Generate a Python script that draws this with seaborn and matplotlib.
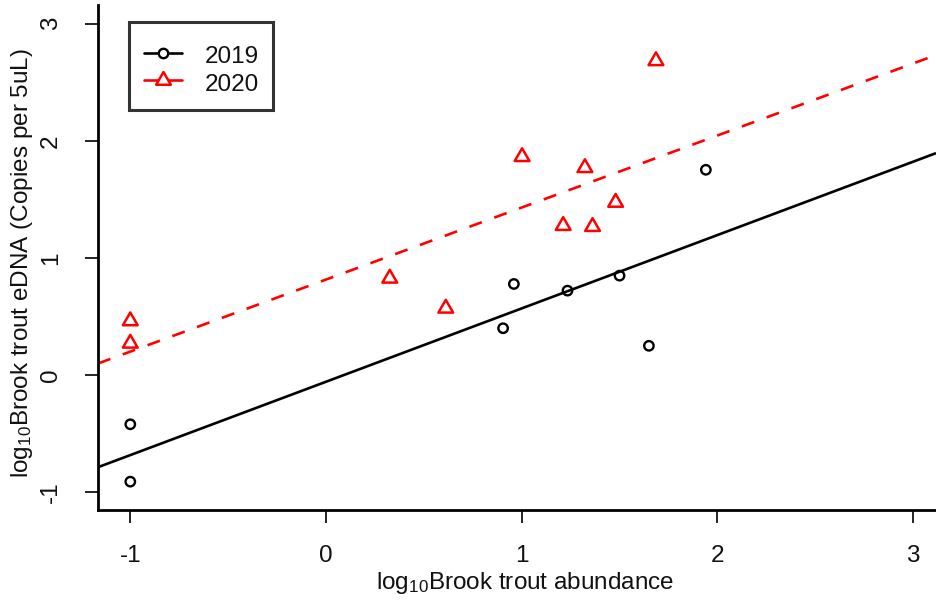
import numpy as np
import pandas as pd
import matplotlib
matplotlib.use("Agg")
import matplotlib.pyplot as plt
from matplotlib.lines import Line2D
from matplotlib.path import Path
import seaborn as sns

# log10 brook trout abundance vs log10 eDNA concentration, by sampling year
abund_2019 = [-1.0, -1.0, 0.905, 0.96, 1.234, 1.50, 1.65, 1.941]
edna_2019 = [-0.42, -0.91, 0.40, 0.778, 0.721, 0.849, 0.25, 1.753]
abund_2020 = [-1.0, -1.0, 0.326, 0.612, 1.002, 1.212, 1.323, 1.362, 1.48, 1.686]
edna_2020 = [0.462, 0.271, 0.826, 0.57, 1.864, 1.276, 1.77, 1.267, 1.474, 2.683]
years = ["2019", "2020"]
x_ticks = [-1, 0, 1, 2, 3]
y_ticks = [-1, 0, 1, 2, 3]

sns.set_theme(style="white")
plt.rcParams["font.family"] = ["Liberation Sans", "DejaVu Sans"]
plt.rcParams["mathtext.fontset"] = "custom"
plt.rcParams["mathtext.rm"] = "Liberation Sans"
plt.rcParams["mathtext.it"] = "Liberation Sans:italic"
plt.rcParams["mathtext.bf"] = "Liberation Sans:bold"
plt.rcParams["axes.unicode_minus"] = False

FS = 17.5
BLACK = "#000000"
RED = "#ff0000"
TXT = "#111111"
LW = 1.9

# equilateral open triangle, centred on its centroid
tri = Path([(0, 1), (0.866, -0.5), (-0.866, -0.5), (0, 1)],
           [Path.MOVETO, Path.LINETO, Path.LINETO, Path.CLOSEPOLY])

fig = plt.figure(figsize=(9.36, 6.0), dpi=100)
ax = fig.add_axes([98 / 936, 1 - 510 / 600, 1 - 98 / 936, (510 - 5) / 600])

xlim = (-1.165, 3.117)
ylim = (-1.152, 3.16)
ax.set_xlim(*xlim)
ax.set_ylim(*ylim)

df19 = pd.DataFrame({"abund": abund_2019, "edna": edna_2019})
df20 = pd.DataFrame({"abund": abund_2020, "edna": edna_2020})

# fitted lines per year, spanning the whole plotting region
sns.regplot(data=df19, x="abund", y="edna", ax=ax, scatter=False, ci=None,
            truncate=False, color=BLACK, line_kws=dict(lw=LW, solid_capstyle="butt"))
sns.regplot(data=df20, x="abund", y="edna", ax=ax, scatter=False, ci=None,
            truncate=False, color=RED,
            line_kws=dict(lw=LW, dashes=(5, 5), dash_capstyle="butt"))

sns.scatterplot(data=df19, x="abund", y="edna", ax=ax, marker="o", s=46,
                facecolors="none", edgecolor=BLACK, linewidth=1.7, zorder=3)
sns.scatterplot(data=df20, x="abund", y="edna", ax=ax, marker=tri, s=150,
                facecolors="none", edgecolor=RED, linewidth=1.8, zorder=3)

ax.set_xlim(*xlim)
ax.set_ylim(*ylim)
ax.set_xticks(x_ticks)
ax.set_yticks(y_ticks)
ax.set_xticklabels([str(t) for t in x_ticks])
ax.set_yticklabels([str(t) for t in y_ticks])

for side in ("top", "right"):
    ax.spines[side].set_visible(False)
for side in ("left", "bottom"):
    ax.spines[side].set_linewidth(2.0)
    ax.spines[side].set_color(BLACK)

ax.tick_params(axis="both", direction="out", length=9.5, width=1.2,
               color=BLACK, labelsize=FS, labelcolor=TXT)
ax.tick_params(axis="x", pad=16, bottom=True)
ax.tick_params(axis="y", pad=16.5, left=True, labelrotation=90)
for lab in ax.get_yticklabels():
    lab.set_va("center")

ax.set_xlabel(r"log$_{10}$Brook trout abundance", fontsize=FS, color=TXT)
ax.set_ylabel(r"log$_{10}$Brook trout eDNA (Copies per 5uL)", fontsize=FS, color=TXT)
ax.xaxis.set_label_coords(0.51, -0.118)
ax.yaxis.set_label_coords(-0.075, 0.49)

handles = [
    Line2D([], [], color=BLACK, lw=LW, marker="o", markersize=6.8,
           markerfacecolor="white", markeredgecolor=BLACK, markeredgewidth=1.7),
    Line2D([], [], color=RED, lw=LW, marker=tri, markersize=12.2,
           markerfacecolor="white", markeredgecolor=RED, markeredgewidth=1.8),
]
# a tiny blank title gives the box its extra headroom above the entries
leg = ax.legend(handles, years, loc="upper left", title=" ", title_fontsize=3,
                bbox_to_anchor=(129 / 936, 1 - 22 / 600), bbox_transform=fig.transFigure,
                fontsize=FS, frameon=True, fancybox=False, borderpad=0.6,
                handlelength=1.6, handleheight=1.2, handletextpad=0.9,
                labelspacing=0.08, borderaxespad=0, numpoints=1)
frame = leg.get_frame()
frame.set_edgecolor(BLACK)
frame.set_linewidth(2.2)
for t in leg.get_texts():
    t.set_color(TXT)

fig.savefig("out.png", dpi=100)
